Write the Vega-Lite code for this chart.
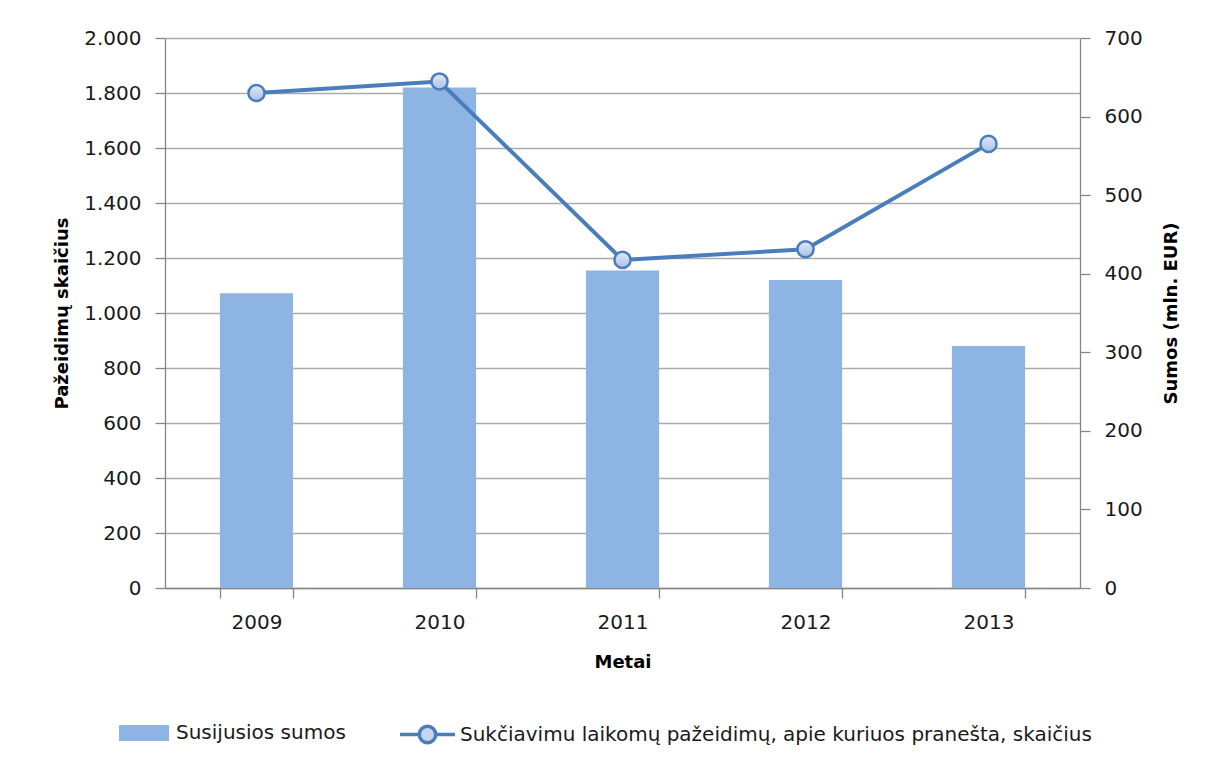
{
  "$schema": "https://vega.github.io/schema/vega-lite/v6.json",
  "width": 915,
  "height": 550,
  "autosize": {"type": "none"},
  "padding": {"left": 165, "top": 38, "right": 125, "bottom": 176},
  "background": "white",
  "config": {
    "view": {"stroke": null},
    "font": "DejaVu Sans",
    "axis": {
      "labelFont": "DejaVu Sans",
      "labelFontSize": 20,
      "labelColor": "#1a1a1a",
      "titleFont": "DejaVu Sans",
      "titleFontSize": 18,
      "titleFontWeight": "bold",
      "titleColor": "#000000",
      "domainColor": "#868686",
      "domainWidth": 1.3,
      "tickColor": "#868686",
      "tickWidth": 1.3,
      "tickSize": 10,
      "gridColor": "#ABABAB",
      "gridWidth": 1.3
    },
    "legend": {
      "labelFont": "DejaVu Sans",
      "labelFontSize": 20,
      "labelColor": "#1a1a1a",
      "labelLimit": 1000,
      "padding": 0
    }
  },
  "data": {
    "values": [
      {"year": "2009", "sumos": 375, "count": 1800},
      {"year": "2010", "sumos": 637, "count": 1842},
      {"year": "2011", "sumos": 404, "count": 1193},
      {"year": "2012", "sumos": 392, "count": 1232},
      {"year": "2013", "sumos": 308, "count": 1615}
    ]
  },
  "layer": [
    {
      "mark": {"type": "bar"},
      "encoding": {
        "x": {
          "field": "year",
          "type": "nominal",
          "scale": {"paddingInner": 0.6, "paddingOuter": 0.3},
          "axis": {
            "title": "Metai",
            "labelAngle": 0,
            "tickBand": "extent",
            "labelPadding": 14,
            "titlePadding": 21,
            "grid": false
          }
        },
        "y": {
          "field": "sumos",
          "type": "quantitative",
          "scale": {"domain": [0, 700], "nice": false},
          "axis": {
            "orient": "right",
            "title": "Sumos (mln. EUR)",
            "titleAngle": -90,
            "grid": false,
            "values": [0, 100, 200, 300, 400, 500, 600, 700],
            "labelPadding": 14,
            "titlePadding": 38
          }
        },
        "fill": {
          "datum": "Susijusios sumos",
          "type": "nominal",
          "scale": {"range": ["#8EB4E3"]},
          "legend": {
            "title": null,
            "orient": "none",
            "legendX": -46,
            "legendY": 670,
            "symbolType": "M-1,-0.32H1V0.32H-1Z",
            "symbolSize": 2500,
            "symbolStrokeWidth": 0,
            "labelOffset": 7
          }
        }
      }
    },
    {
      "mark": {"type": "line", "strokeWidth": 4},
      "encoding": {
        "x": {"field": "year", "type": "nominal"},
        "y": {
          "field": "count",
          "type": "quantitative",
          "scale": {"domain": [0, 2000], "nice": false},
          "axis": {
            "orient": "left",
            "title": "Pažeidimų skaičius",
            "values": [0, 200, 400, 600, 800, 1000, 1200, 1400, 1600, 1800, 2000],
            "labelExpr": "replace(format(datum.value, ','), ',', '.')",
            "grid": true,
            "labelPadding": 14,
            "titlePadding": 12
          }
        },
        "stroke": {
          "datum": "Sukčiavimu laikomų pažeidimų, apie kuriuos pranešta, skaičius",
          "type": "nominal",
          "scale": {"range": ["#4A7EBB"]},
          "legend": {
            "title": null,
            "orient": "none",
            "legendX": 233,
            "legendY": 667,
            "symbolType": "M-1,0H-0.3M0.3,0H1M-0.3,0A0.3,0.3 0 1 1 0.3,0A0.3,0.3 0 1 1 -0.3,0Z",
            "symbolSize": 3025,
            "symbolStrokeWidth": 3.5,
            "symbolFillColor": "#C5D5EE",
            "labelOffset": 3
          }
        }
      }
    },
    {
      "mark": {
        "type": "point",
        "filled": true,
        "opacity": 1,
        "size": 260,
        "stroke": "#4A7EBB",
        "strokeWidth": 2.5,
        "fill": {
          "gradient": "linear",
          "x1": 0, "y1": 0, "x2": 0, "y2": 1,
          "stops": [
            {"offset": 0, "color": "#E2EAF6"},
            {"offset": 1, "color": "#A9C0E4"}
          ]
        }
      },
      "encoding": {
        "x": {"field": "year", "type": "nominal"},
        "y": {
          "field": "count",
          "type": "quantitative",
          "scale": {"domain": [0, 2000], "nice": false},
          "axis": null
        }
      }
    }
  ],
  "resolve": {"scale": {"y": "independent"}}
}
